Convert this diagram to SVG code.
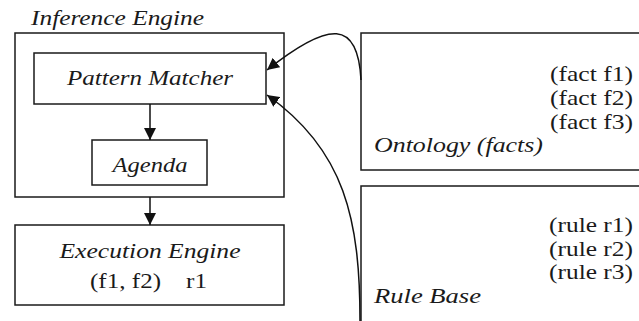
<svg xmlns="http://www.w3.org/2000/svg" width="639" height="321" viewBox="0 0 639 321">
<style>
rect.box{fill:#fff;stroke:#1a1a1a;stroke-width:1.5}
text{font-family:'Liberation Serif','Times New Roman',serif;font-size:22px;fill:#1a1a1a}
.it{font-style:italic}
.mid{text-anchor:middle}
.end{text-anchor:end}
.conn{fill:none;stroke:#111;stroke-width:1.5}
</style>
<defs>
<marker id="ah" markerUnits="userSpaceOnUse" markerWidth="14" markerHeight="12" refX="12" refY="6" orient="auto">
<path d="M0,0 L12,6 L0,12 z" fill="#111"/>
</marker>
</defs>
<g id="inference-engine">
<text class="it" x="31" y="25" textLength="173" lengthAdjust="spacingAndGlyphs">Inference Engine</text>
<rect class="box" x="15" y="33" width="269" height="164"/>
</g>
<g id="pattern-matcher">
<rect class="box" x="34" y="53" width="232" height="51"/>
<text class="it mid" x="150" y="85" textLength="166" lengthAdjust="spacingAndGlyphs">Pattern Matcher</text>
</g>
<g id="agenda">
<rect class="box" x="92" y="140" width="115" height="45"/>
<text class="it mid" x="150" y="172" textLength="75" lengthAdjust="spacingAndGlyphs">Agenda</text>
</g>
<g id="execution-engine">
<rect class="box" x="15" y="225" width="269" height="80"/>
<text class="it mid" x="150" y="258" textLength="181" lengthAdjust="spacingAndGlyphs">Execution Engine</text>
<text x="90" y="288" xml:space="preserve" textLength="117" lengthAdjust="spacingAndGlyphs">(f1, f2)    r1</text>
</g>
<g id="ontology">
<rect class="box" x="361" y="33" width="300" height="137"/>
<text class="end" x="633" y="81" textLength="83" lengthAdjust="spacingAndGlyphs">(fact f1)</text>
<text class="end" x="633" y="105" textLength="83" lengthAdjust="spacingAndGlyphs">(fact f2)</text>
<text class="end" x="633" y="129" textLength="83" lengthAdjust="spacingAndGlyphs">(fact f3)</text>
<text class="it" x="374" y="152" textLength="169" lengthAdjust="spacingAndGlyphs">Ontology (facts)</text>
</g>
<g id="rule-base">
<rect class="box" x="361" y="186" width="300" height="160"/>
<text class="end" x="633" y="232" textLength="84" lengthAdjust="spacingAndGlyphs">(rule r1)</text>
<text class="end" x="633" y="256" textLength="84" lengthAdjust="spacingAndGlyphs">(rule r2)</text>
<text class="end" x="633" y="279" textLength="84" lengthAdjust="spacingAndGlyphs">(rule r3)</text>
<text class="it" x="374" y="303" textLength="107" lengthAdjust="spacingAndGlyphs">Rule Base</text>
</g>
<g id="connectors">
<line class="conn" x1="150" y1="104" x2="150" y2="140" marker-end="url(#ah)"/>
<line class="conn" x1="150" y1="197" x2="150" y2="225" marker-end="url(#ah)"/>
<path class="conn" d="M361,80 C358,20 330,20 267,70" marker-end="url(#ah)"/>
<path class="conn" d="M360,321 C360,220 345,150 267,95" marker-end="url(#ah)"/>
</g>
</svg>
